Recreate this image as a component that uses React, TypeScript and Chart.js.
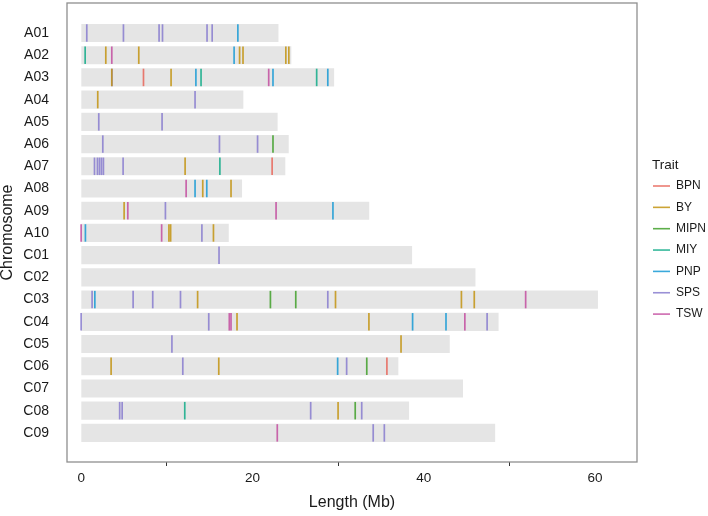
import { useEffect, useRef } from "react";
import { Chart, registerables } from "chart.js";

Chart.register(...registerables);

// ---- data ----
const chromosomes = ["A01", "A02", "A03", "A04", "A05", "A06", "A07", "A08", "A09", "A10",
  "C01", "C02", "C03", "C04", "C05", "C06", "C07", "C08", "C09"];
const lengths = [23.0, 24.5, 29.5, 18.9, 22.9, 24.2, 23.8, 18.75, 33.6, 17.2,
  38.6, 46.0, 60.3, 48.7, 43.0, 37.0, 44.55, 38.25, 48.3];
const xTicks = [0, 20, 40, 60];

const traitNames = ["BPN", "BY", "MIPN", "MIY", "PNP", "SPS", "TSW"];
const traitColors = [
  "rgba(232,101,89,0.85)",
  "rgba(195,148,18,0.85)",
  "rgba(65,160,42,0.85)",
  "rgba(18,171,136,0.85)",
  "rgba(24,154,213,0.85)",
  "rgba(136,124,207,0.85)",
  "rgba(195,77,160,0.85)",
];

type QTL = [string, number];
const BPN: QTL[] = [["A03", 7.28], ["A07", 22.3], ["C06", 35.7]];
const BY: QTL[] = [
  ["A02", 2.88], ["A02", 6.73], ["A02", 18.5], ["A02", 18.9], ["A02", 23.9], ["A02", 24.25],
  ["A03", 3.58], ["A03", 10.5], ["A04", 1.94], ["A07", 12.14], ["A08", 14.2], ["A08", 17.5],
  ["A09", 5.02], ["A10", 10.25], ["A10", 10.45], ["A10", 15.45],
  ["C03", 13.6], ["C03", 29.7], ["C03", 44.4], ["C03", 45.9],
  ["C04", 18.2], ["C04", 33.6], ["C05", 37.35], ["C06", 3.5], ["C06", 16.07], ["C08", 30.0],
];
const MIPN: QTL[] = [["A06", 22.4], ["C03", 22.1], ["C03", 25.06], ["C06", 33.35], ["C08", 32.0]];
const MIY: QTL[] = [["A02", 0.47], ["A03", 14.0], ["A03", 27.5], ["A07", 16.2], ["C08", 12.1]];
const PNP: QTL[] = [
  ["A01", 18.3], ["A02", 17.86], ["A03", 13.4], ["A03", 22.4], ["A03", 28.8],
  ["A08", 13.3], ["A08", 14.67], ["A09", 29.4], ["A10", 0.5],
  ["C03", 1.6], ["C04", 38.7], ["C04", 42.6], ["C06", 29.95],
];
const SPS: QTL[] = [
  ["A01", 0.66], ["A01", 4.94], ["A01", 9.1], ["A01", 9.5], ["A01", 14.7], ["A01", 15.3],
  ["A03", 3.6], ["A04", 13.3], ["A05", 2.06], ["A05", 9.45],
  ["A06", 2.53], ["A06", 16.15], ["A06", 20.6],
  ["A07", 1.56], ["A07", 1.9], ["A07", 2.14], ["A07", 2.37], ["A07", 2.6], ["A07", 4.9],
  ["A09", 9.84], ["A10", 14.1], ["C01", 16.1],
  ["C03", 1.28], ["C03", 6.07], ["C03", 8.36], ["C03", 11.6], ["C03", 28.8],
  ["C04", 0.0], ["C04", 14.9], ["C04", 47.4], ["C05", 10.6],
  ["C06", 11.87], ["C06", 31.0], ["C08", 4.5], ["C08", 4.79], ["C08", 26.8], ["C08", 32.76],
  ["C09", 34.1], ["C09", 35.4],
];
const TSW: QTL[] = [
  ["A02", 3.58], ["A03", 21.9], ["A08", 12.26], ["A09", 5.45], ["A09", 22.76],
  ["A10", 0.0], ["A10", 9.4], ["C03", 51.9], ["C04", 17.3], ["C04", 17.5], ["C04", 44.8], ["C09", 22.9],
];
const traitQTL = [BPN, BY, MIPN, MIY, PNP, SPS, TSW];

export default function App() {
  const ref = useRef<HTMLCanvasElement>(null);

  useEffect(() => {
    const canvas = ref.current;
    if (!canvas) return;

    const panelBorder = {
      id: "panelBorder",
      afterDatasetsDraw(chart: any) {
        const { ctx, chartArea: a } = chart;
        ctx.save();
        ctx.strokeStyle = "#8f8f8f";
        ctx.lineWidth = 1.3;
        ctx.strokeRect(a.left, a.top, a.right - a.left, a.bottom - a.top);
        ctx.restore();
      },
    };

    const traitLegend = {
      id: "traitLegend",
      afterDraw(chart: any) {
        const { ctx, chartArea: a } = chart;
        const cy = (a.top + a.bottom) / 2;
        ctx.save();
        ctx.textBaseline = "middle";
        ctx.textAlign = "left";
        ctx.fillStyle = "#1a1a1a";
        ctx.font = "13.5px 'Liberation Sans', Arial, sans-serif";
        ctx.fillText("Trait", a.right + 15, cy - 67.5);
        ctx.font = "12px 'Liberation Sans', Arial, sans-serif";
        chart.data.datasets.forEach((ds: any, i: number) => {
          if (ds.type !== "scatter") return;
          const k = i - 1;
          const y = cy - 46.5 + k * 21.35;
          ctx.strokeStyle = ds.borderColor;
          ctx.lineWidth = 1.6;
          ctx.beginPath();
          ctx.moveTo(a.right + 16, y);
          ctx.lineTo(a.right + 33, y);
          ctx.stroke();
          ctx.fillStyle = "#1a1a1a";
          ctx.fillText(ds.label, a.right + 39, y);
        });
        ctx.restore();
      },
    };

    const chart = new Chart(canvas, {
      type: "bar",
      data: {
        datasets: [
          {
            type: "bar",
            indexAxis: "y",
            label: "Chromosome",
            data: chromosomes.map((_, i) => ({ x: lengths[i], y: i })),
            backgroundColor: "#e5e5e5",
            barThickness: 17.5,
            order: 10,
          } as any,
          ...traitNames.map((t, k) => ({
            type: "scatter",
            label: t,
            data: traitQTL[k].map(([c, p]) => ({ x: p, y: chromosomes.indexOf(c) })),
            pointStyle: "line",
            rotation: 90,
            radius: 8.75,
            borderWidth: 1.7,
            borderColor: traitColors[k],
            backgroundColor: traitColors[k],
            order: 0,
          } as any)),
        ],
      },
      options: {
        animation: false,
        responsive: false,
        events: [],
        layout: { autoPadding: false, padding: { left: 0, top: 3, right: 71, bottom: 0 } },
        plugins: {
          legend: { display: false },
          tooltip: { enabled: false },
        },
        scales: {
          x: {
            type: "linear",
            position: "bottom",
            min: -1.65,
            max: 64.9,
            offset: false,
            afterFit(scale: any) {
              scale.height = 54;
              scale.paddingLeft = 0;
              scale.paddingRight = 0;
            },
            afterBuildTicks(scale: any) { scale.ticks = xTicks.map((v) => ({ value: v })); },
            grid: { drawOnChartArea: false, drawTicks: true, tickLength: 4, color: "#333333", lineWidth: 1 },
            border: { display: false },
            ticks: {
              autoSkip: false,
              maxRotation: 0,
              padding: 4.5,
              color: "#1a1a1a",
              font: { family: "'Liberation Sans', Arial, sans-serif", size: 13.5 },
            },
            title: {
              display: true,
              text: "Length (Mb)",
              color: "#1a1a1a",
              font: { family: "'Liberation Sans', Arial, sans-serif", size: 16 },
              padding: { top: 0, bottom: 3.4 },
            },
          },
          y: {
            type: "linear",
            reverse: true,
            min: -1.35,
            max: 19.31,
            offset: false,
            afterFit(scale: any) {
              scale.width = 67;
              scale.paddingTop = 0;
              scale.paddingBottom = 0;
            },
            afterBuildTicks(scale: any) { scale.ticks = chromosomes.map((_, i) => ({ value: i })); },
            grid: { display: false },
            border: { display: false },
            ticks: {
              autoSkip: false,
              padding: 10,
              color: "#1a1a1a",
              font: { family: "'Liberation Sans', Arial, sans-serif", size: 14 },
              callback: (v: any) => chromosomes[v as number] ?? "",
            },
            title: {
              display: true,
              text: "Chromosome",
              color: "#1a1a1a",
              font: { family: "'Liberation Sans', Arial, sans-serif", size: 16, lineHeight: 1 },
              padding: { top: 0, bottom: 0 },
            },
          },
        },
      },
      plugins: [panelBorder, traitLegend],
    });

    return () => chart.destroy();
  }, []);

  return (
    <div style={{ position: "fixed", left: 0, top: 0, width: 708, height: 516, background: "#ffffff" }}>
      <canvas ref={ref} width={708} height={516} style={{ display: "block" }} />
    </div>
  );
}
